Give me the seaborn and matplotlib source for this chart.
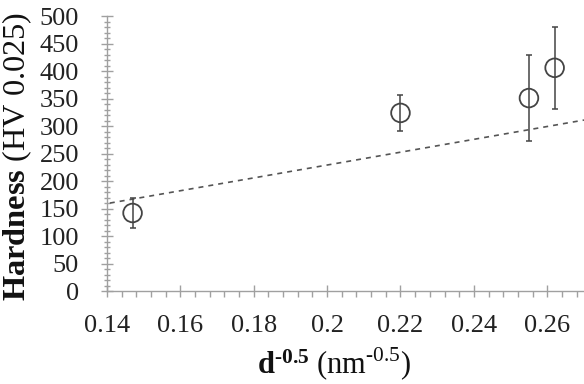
import matplotlib
matplotlib.use("Agg")
import matplotlib.pyplot as plt
import seaborn as sns
import pandas as pd
from matplotlib.ticker import MultipleLocator, FuncFormatter

# measured grain size term d^-0.5 (nm^-0.5) and hardness (HV 0.025)
d_inv_sqrt = [0.147, 0.220, 0.255, 0.262]
hardness = [142, 324, 351, 406]
hardness_err = [28, 33, 78, 75]

# dashed reference line (end points)
trend_x = [0.1408, 0.27]
trend_y = [160, 311]

sns.set_theme(style="ticks")
plt.rcParams["font.family"] = ["Liberation Serif", "DejaVu Serif"]
plt.rcParams["mathtext.fontset"] = "custom"
plt.rcParams["mathtext.rm"] = "Liberation Serif"
plt.rcParams["mathtext.bf"] = "Liberation Serif:bold"

df = pd.DataFrame({"x": d_inv_sqrt, "y": hardness, "err": hardness_err})
trend = pd.DataFrame({"x": trend_x, "y": trend_y})

fig = plt.figure(figsize=(5.84, 3.84), dpi=100)
ax = fig.add_axes([0.183, 0.242, 0.817, 0.716])

axis_col = "#a0a0a0"
mark_col = "#444444"

sns.lineplot(data=trend, x="x", y="y", ax=ax, color="#555555", lw=1.2,
             linestyle=(0, (3, 3)))
ax.errorbar(df["x"], df["y"], yerr=df["err"], fmt="none", ecolor=mark_col,
            elinewidth=1.1, capsize=2.5, capthick=1.1)
sns.scatterplot(data=df, x="x", y="y", ax=ax, marker="o", s=180,
                facecolor="none", edgecolor=mark_col, linewidth=1.3, zorder=3)

ax.set_xlim(0.14, 0.27)
ax.set_ylim(0, 500)
ax.xaxis.set_major_locator(MultipleLocator(0.02))
ax.xaxis.set_minor_locator(MultipleLocator(0.004))
ax.yaxis.set_major_locator(MultipleLocator(50))
ax.yaxis.set_minor_locator(MultipleLocator(10))
ax.xaxis.set_major_formatter(FuncFormatter(lambda v, p: f"{v:.2f}".rstrip("0").rstrip(".")))

sns.despine(ax=ax)
for s in ["left", "bottom"]:
    ax.spines[s].set_color(axis_col)
    ax.spines[s].set_linewidth(1.0)

ax.tick_params(axis="both", which="major", direction="inout", length=8,
               width=1.0, color=axis_col, labelsize=19, labelcolor="#222222")
ax.tick_params(axis="x", which="minor", direction="out", length=4,
               width=1.0, color=axis_col)
ax.tick_params(axis="y", which="minor", direction="inout", length=5,
               width=1.0, color=axis_col)
ax.tick_params(axis="x", which="major", pad=13)
ax.tick_params(axis="y", which="major", pad=16)

ax.set_xlabel(r"$\mathbf{d^{\text{-}0.5}}$ (nm$^{\text{-}0.5}$)", fontsize=22,
              color="#111111")
ax.xaxis.set_label_coords(0.476, -0.2)
ax.set_ylabel(r"$\mathbf{Hardness}$ (HV 0.025)", fontsize=23.3, color="#111111")
ax.yaxis.set_label_coords(-0.152, 0.49)

fig.savefig("out.png", dpi=100)
